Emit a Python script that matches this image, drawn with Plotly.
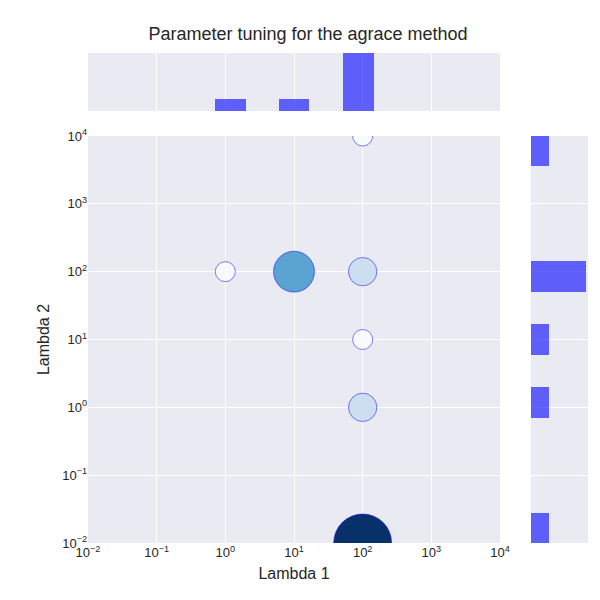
import plotly.graph_objects as go

lam1 = [1, 10, 100, 100, 100, 100, 100]
lam2 = [100, 100, 100, 10, 1, 0.01, 10000]
score = [0.0, 0.55, 0.22, 0.0, 0.22, 1.0, 0.0]

top_centers = [0.07, 1.0, 1.94]
top_counts = [1, 1, 5]
right_centers = [3.78, 1.93, 1.0, 0.07, -1.78]
right_counts = [1, 3, 1, 1, 1]
tick_vals = [0.01, 0.1, 1, 10, 100, 1000, 10000]
tick_text = ["10<sup>−2</sup>", "10<sup>−1</sup>", "10<sup>0</sup>", "10<sup>1</sup>",
             "10<sup>2</sup>", "10<sup>3</sup>", "10<sup>4</sup>"]

bg = "#EAEAF2"
hist_col = "rgba(0,0,255,0.6)"
fig = go.Figure()
fig.add_trace(go.Scatter(
    x=lam1, y=lam2, mode="markers",
    marker=dict(size=[20 + 38 * s for s in score], color=score, colorscale="Blues",
                cmin=0, cmax=1, opacity=1, line=dict(color="blue", width=0.5)),
    xaxis="x", yaxis="y", showlegend=False))
fig.add_trace(go.Bar(x=top_centers, y=top_counts, width=0.45, marker=dict(color=hist_col, line_width=0),
                     xaxis="x2", yaxis="y2", showlegend=False))
fig.add_trace(go.Bar(y=right_centers, x=right_counts, width=0.45, orientation="h",
                     marker=dict(color=hist_col, line_width=0),
                     xaxis="x3", yaxis="y3", showlegend=False))

ax = dict(gridcolor="white", gridwidth=1.2, zeroline=False, showline=False, ticks="", automargin=False)
fig.update_layout(
    width=600, height=600, paper_bgcolor="white", plot_bgcolor=bg,
    font=dict(family="Liberation Sans, Arial", size=13, color="#262626"),
    margin=dict(l=0, r=0, t=0, b=0, autoexpand=False),
    title=dict(text="Parameter tuning for the agrace method", x=0.5, y=0.967,
               xanchor="center", font=dict(size=18)),
    xaxis=dict(type="log", range=[-2, 4], tickvals=tick_vals, ticktext=tick_text,
               domain=[80/600, 492/600], anchor="y", title=dict(text="Lambda 1", standoff=8), **ax),
    yaxis=dict(type="log", range=[-2, 4], tickvals=tick_vals, ticktext=tick_text,
               domain=[65/600, 472/600], anchor="x", title=dict(text="Lambda 2", standoff=8), **ax),
    xaxis2=dict(range=[-2, 4], dtick=1, showticklabels=False, domain=[80/600, 492/600], anchor="y2", **ax),
    yaxis2=dict(range=[0, 5], showticklabels=False, showgrid=False, domain=[497/600, 555/600], anchor="x2",
                zeroline=False, ticks=""),
    xaxis3=dict(range=[0, 3.1], showticklabels=False, showgrid=False, domain=[523/600, 580/600], anchor="y3",
                zeroline=False, ticks=""),
    yaxis3=dict(range=[-2, 4], dtick=1, showticklabels=False, domain=[65/600, 472/600], anchor="x3", **ax),
    bargap=0,
)
fig.write_html("out.html")
